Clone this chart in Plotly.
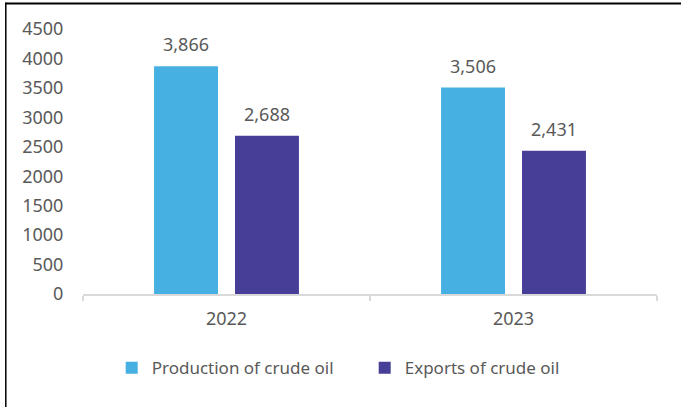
import plotly.graph_objects as go

years = ["2022", "2023"]
production = [3866, 3506]
exports = [2688, 2431]
series_names = ["Production of crude oil", "Exports of crude oil"]
colors = ["#45B0E1", "#473F97"]
y_ticks = [0, 500, 1000, 1500, 2000, 2500, 3000, 3500, 4000, 4500]

FONT = "Noto Sans"
TXT = "#595959"

fig = go.Figure()
for name, vals, col in zip(series_names, [production, exports], colors):
    fig.add_trace(go.Bar(name=name, x=years, y=vals, marker=dict(color=col, line=dict(width=0))))

# data labels (x given as category index)
for vals, shift in zip([production, exports], [-40.5, 40.5]):
    for i, v in enumerate(vals):
        fig.add_annotation(x=i, y=v, xref="x", yref="y", text=f"{v:,}", showarrow=False,
                           xshift=shift, yshift=8, yanchor="bottom",
                           font=dict(family=FONT, size=18, color=TXT))

# border lines (top and left)
fig.add_shape(type="line", xref="paper", yref="paper", x0=-0.135, x1=1.1, y0=1.096, y1=1.096,
              line=dict(color="black", width=2))
fig.add_shape(type="line", xref="paper", yref="paper", x0=-0.1345, x1=-0.1345, y0=1.1, y1=-0.45,
              line=dict(color="black", width=1.5))

fig.update_layout(
    width=681, height=407,
    margin=dict(l=83, r=24, t=29, b=113),
    paper_bgcolor="white", plot_bgcolor="white",
    barmode="group", bargap=0.436, bargroupgap=0.21,
    font=dict(family=FONT, size=18, color=TXT),
    showlegend=True,
    legend=dict(orientation="h", x=0.05, y=-0.28, xanchor="left", yanchor="middle",
                entrywidth=208, entrywidthmode="pixels",
                font=dict(family=FONT, size=17, color=TXT), itemclick=False),
    xaxis=dict(type="category", range=[-0.5, 1.5], showline=True, linecolor="#D9D9D9",
               linewidth=1.5, ticks="outside", ticklabelstandoff=8,
               tickson="boundaries", ticklen=5, tickcolor="#D9D9D9", tickwidth=1.5,
               showgrid=False, tickfont=dict(family=FONT, size=18, color=TXT)),
    yaxis=dict(range=[0, 4500], tickvals=y_ticks, showgrid=False, zeroline=False,
               showline=False, ticks="outside", ticklen=15, tickcolor="rgba(0,0,0,0)",
               tickfont=dict(family=FONT, size=18, color=TXT)),
)

fig.write_html("out.html", post_script="document.body.style.margin='0';",
               config={"displayModeBar": False})
